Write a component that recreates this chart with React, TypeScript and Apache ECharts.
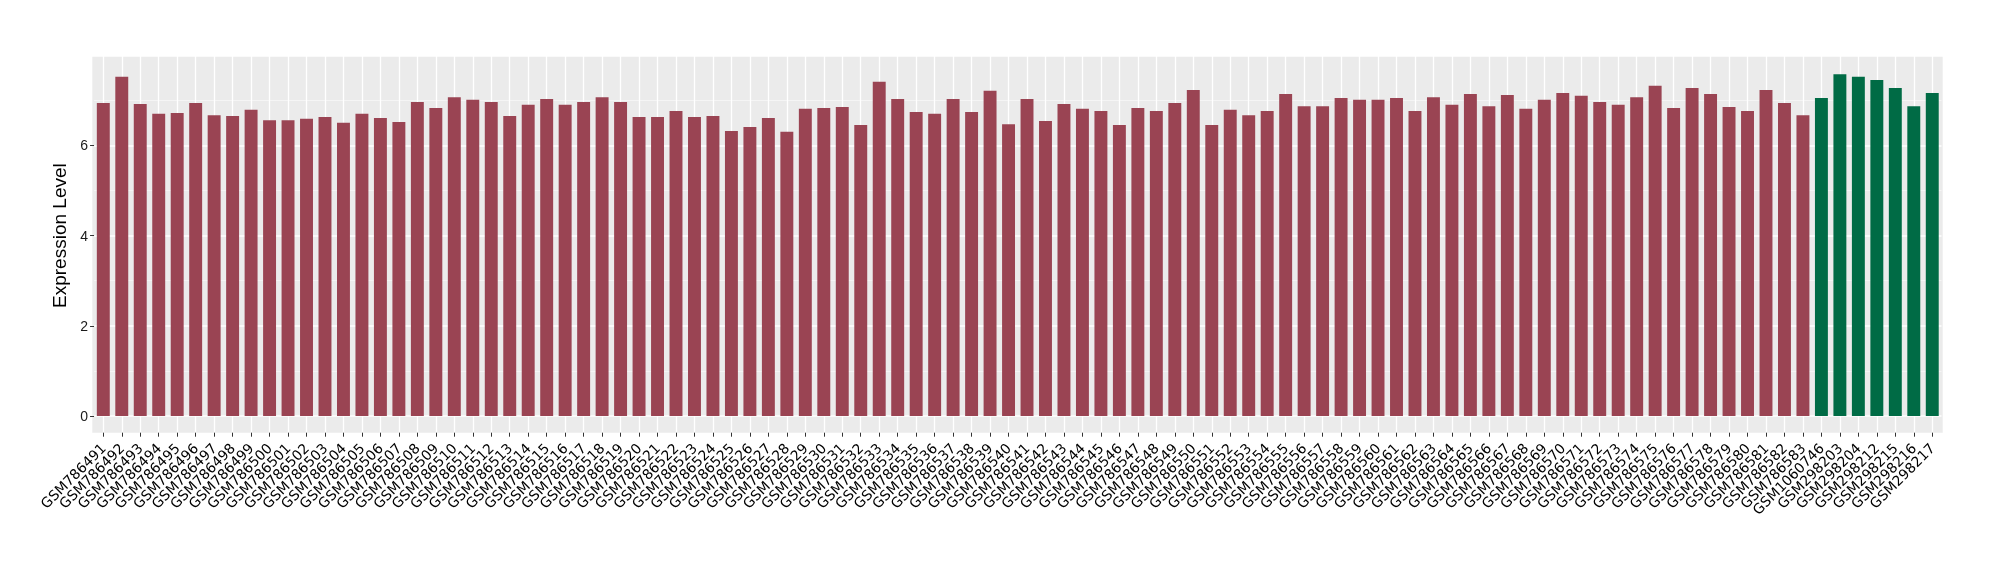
import React, { useEffect, useRef } from "react";
import * as echarts from "echarts";

const redSamples = [
  "GSM786491","GSM786492","GSM786493","GSM786494","GSM786495","GSM786496","GSM786497","GSM786498","GSM786499","GSM786500",
  "GSM786501","GSM786502","GSM786503","GSM786504","GSM786505","GSM786506","GSM786507","GSM786508","GSM786509","GSM786510",
  "GSM786511","GSM786512","GSM786513","GSM786514","GSM786515","GSM786516","GSM786517","GSM786518","GSM786519","GSM786520",
  "GSM786521","GSM786522","GSM786523","GSM786524","GSM786525","GSM786526","GSM786527","GSM786528","GSM786529","GSM786530",
  "GSM786531","GSM786532","GSM786533","GSM786534","GSM786535","GSM786536","GSM786537","GSM786538","GSM786539","GSM786540",
  "GSM786541","GSM786542","GSM786543","GSM786544","GSM786545","GSM786546","GSM786547","GSM786548","GSM786549","GSM786550",
  "GSM786551","GSM786552","GSM786553","GSM786554","GSM786555","GSM786556","GSM786557","GSM786558","GSM786559","GSM786560",
  "GSM786561","GSM786562","GSM786563","GSM786564","GSM786565","GSM786566","GSM786567","GSM786568","GSM786569","GSM786570",
  "GSM786571","GSM786572","GSM786573","GSM786574","GSM786575","GSM786576","GSM786577","GSM786578","GSM786579","GSM786580",
  "GSM786581","GSM786582","GSM786583"
];
const redValues = [
  6.94, 7.52, 6.92, 6.70, 6.72, 6.94, 6.67, 6.65, 6.79, 6.56,
  6.56, 6.59, 6.63, 6.50, 6.70, 6.61, 6.52, 6.96, 6.83, 7.07,
  7.01, 6.96, 6.65, 6.90, 7.03, 6.90, 6.96, 7.07, 6.96, 6.63,
  6.63, 6.76, 6.63, 6.65, 6.32, 6.41, 6.61, 6.30, 6.81, 6.83,
  6.85, 6.45, 7.41, 7.03, 6.74, 6.70, 7.03, 6.74, 7.21, 6.47,
  7.03, 6.54, 6.92, 6.81, 6.76, 6.45, 6.83, 6.76, 6.94, 7.23,
  6.45, 6.79, 6.67, 6.76, 7.14, 6.87, 6.87, 7.05, 7.01, 7.01,
  7.05, 6.76, 7.07, 6.90, 7.14, 6.87, 7.12, 6.81, 7.01, 7.16,
  7.10, 6.96, 6.90, 7.07, 7.32, 6.83, 7.27, 7.14, 6.85, 6.76,
  7.23, 6.94, 6.67
];
const greenSamples = ["GSM1060746","GSM298203","GSM298204","GSM298212","GSM298215","GSM298216","GSM298217"];
const greenValues = [7.05, 7.58, 7.52, 7.45, 7.27, 6.87, 7.16];

const yTickValues = [0, 2, 4, 6];
const yTitle = "Expression Level";

const RED = "#9A4453";
const GREEN = "#006B45";

export default function App() {
  const ref = useRef<HTMLDivElement>(null);
  useEffect(() => {
    if (!ref.current) return;
    const chart = echarts.init(ref.current, null, { renderer: "svg" });
    const categories = [...redSamples, ...greenSamples];
    const data = [
      ...redValues.map((v) => ({ value: v, itemStyle: { color: RED } })),
      ...greenValues.map((v) => ({ value: v, itemStyle: { color: GREEN } })),
    ];
    const left = 94.06;
    const right = 2000 - 1941.5;
    const zeroY = 416;
    const unit = 45.1;
    const gridTop = zeroY - 8 * unit;
    chart.setOption({
      animation: false,
      graphic: {
        elements: [
          {
            type: "rect",
            z: -1,
            silent: true,
            shape: { x: 92.3, y: 56.7, width: 1850.4, height: 376 },
            style: { fill: "#EBEBEB" },
          },
        ],
      },
      grid: [
        { left, right, top: gridTop, bottom: 580 - zeroY, containLabel: false },
        { left, right, top: zeroY, height: 432.7 - zeroY, containLabel: false },
      ],
      xAxis: [
        {
          type: "category",
          gridIndex: 0,
          data: categories,
          axisLine: { show: false },
          axisTick: { show: false },
          axisLabel: { show: false },
          splitLine: { show: true, interval: 0, alignWithLabel: true, lineStyle: { color: "#FFFFFF", width: 1.3 } },
        },
        {
          type: "category",
          gridIndex: 1,
          data: categories,
          position: "bottom",
          axisLine: { show: false },
          axisTick: { show: true, interval: 0, alignWithLabel: true, length: 4, lineStyle: { color: "#333333", width: 1 } },
          axisLabel: {
            show: true,
            interval: 0,
            rotate: 45,
            margin: 13,
            fontFamily: "DejaVu Sans",
            fontSize: 14,
            color: "#000000",
          },
          splitLine: { show: true, interval: 0, alignWithLabel: true, lineStyle: { color: "#FFFFFF", width: 1.3 } },
        },
      ],
      yAxis: [
        {
          type: "value",
          gridIndex: 0,
          min: 0,
          max: 8,
          interval: 2,
          axisLine: { show: false },
          axisTick: { show: false },
          axisLabel: { show: false },
          splitLine: { show: true, lineStyle: { color: "#FFFFFF", width: 1.5 } },
          minorTick: { show: false, splitNumber: 2 },
          minorSplitLine: { show: true, lineStyle: { color: "#F5F5F5", width: 1 } },
        },
        {
          type: "value",
          gridIndex: 0,
          min: 0,
          max: 8,
          position: "left",
          axisLine: { show: false },
          axisTick: { show: true, customValues: yTickValues, length: 4, lineStyle: { color: "#333333", width: 1 } },
          axisLabel: {
            show: true,
            customValues: yTickValues,
            margin: 6,
            fontFamily: "Liberation Sans",
            fontSize: 14,
            color: "#1A1A1A",
          },
          splitLine: { show: false },
          name: yTitle,
          nameLocation: "middle",
          nameRotate: 90,
          nameGap: 24,
          nameTextStyle: { fontFamily: "Liberation Sans", fontSize: 19, color: "#000000" },
        },
        {
          type: "value",
          gridIndex: 1,
          min: 0,
          max: 1,
          show: false,
          splitLine: { show: false },
        },
      ],
      series: [
        {
          type: "bar",
          xAxisIndex: 0,
          yAxisIndex: 0,
          data,
          barWidth: "70%",
          z: 2,
        },
      ],
    });
    return () => chart.dispose();
  }, []);
  return (
    <div
      ref={ref}
      style={{ position: "fixed", left: 0, top: 0, width: 2000, height: 580 }}
    />
  );
}
